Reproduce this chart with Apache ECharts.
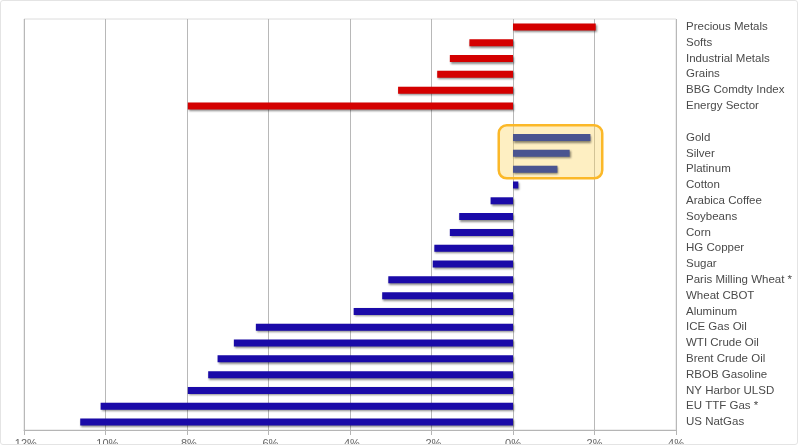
<!DOCTYPE html>
<html>
<head>
    <meta charset="utf-8">
    <script src="https://cdn.jsdelivr.net/npm/echarts@6/dist/echarts.min.js"></script>
    <style>
        body {margin: 0; background: #fff;}
        #frame {position: absolute; left: 0; top: 0; width: 796px; height: 443px;
                border: 1px solid #e4e4e4; border-radius: 3px; pointer-events: none;}
    </style>
</head>
<body>
<div id="main" style="width: 800px; height: 445px"></div>
<div id="frame"></div>
<script type="text/javascript">

    // sector returns, %
    var sectorNames = ['Precious Metals', 'Softs', 'Industrial Metals', 'Grains', 'BBG Comdty Index', 'Energy Sector'];
    var sectorValues = [2.03, -1.07, -1.55, -1.86, -2.82, -7.98];

    // highlighted precious metals
    var metalNames = ['Gold', 'Silver', 'Platinum'];
    var metalValues = [1.90, 1.39, 1.09];

    // single commodities
    var commodityNames = ['Cotton', 'Arabica Coffee', 'Soybeans', 'Corn', 'HG Copper', 'Sugar',
        'Paris Milling Wheat *', 'Wheat CBOT', 'Aluminum', 'ICE Gas Oil', 'WTI Crude Oil',
        'Brent Crude Oil', 'RBOB Gasoline', 'NY Harbor ULSD', 'EU TTF Gas *', 'US NatGas'];
    var commodityValues = [0.13, -0.55, -1.32, -1.55, -1.93, -1.97, -3.06, -3.21, -3.91,
        -6.31, -6.85, -7.25, -7.48, -7.98, -10.12, -10.62];

    var xTicks = [-12, -10, -8, -6, -4, -2, 0, 2, 4];

    var categories = sectorNames.concat([' '], metalNames, commodityNames);

    function pad(before, vals, after) {
        var out = [];
        for (var i = 0; i < before; i++) out.push('-');
        out = out.concat(vals);
        for (var j = 0; j < after; j++) out.push('-');
        return out;
    }

    var nS = sectorNames.length, nM = metalNames.length, nC = commodityNames.length;
    var shadow = {shadowColor: 'rgba(0,0,0,0.45)', shadowBlur: 2, shadowOffsetX: 1, shadowOffsetY: 1.5};

    var myChart = echarts.init(document.getElementById('main'));
    var option = {
        backgroundColor: '#fff',
        animation: false,
        grid: {
            left: 24, right: 124, top: 19, bottom: 15, outerBoundsMode: 'none',
            show: true, borderColor: '#dcdcdc', borderWidth: 1
        },
        xAxis: {
            type: 'value', min: xTicks[0], max: xTicks[xTicks.length - 1], interval: 2,
            axisLine: {show: true, lineStyle: {color: '#b5b5b5'}},
            axisTick: {show: true, length: 5, lineStyle: {color: '#b5b5b5'}},
            axisLabel: {formatter: '{value}%', color: '#666', fontSize: 11, margin: 8,
                fontFamily: 'Liberation Sans'},
            splitLine: {show: true, lineStyle: {color: '#b8b8b8', width: 1}}
        },
        yAxis: {
            type: 'category', data: categories, inverse: true, position: 'right',
            axisLine: {show: false}, axisTick: {show: false},
            axisLabel: {color: '#4a4a4a', fontSize: 11.5, margin: 10, align: 'left',
                fontFamily: 'Liberation Sans', interval: 0}
        },
        series: [
            {
                name: 'Sectors', type: 'bar', barWidth: 7, barGap: '-100%',
                data: pad(0, sectorValues, nM + nC + 1),
                itemStyle: Object.assign({color: '#d40000'}, shadow), z: 3
            },
            {
                name: 'Metals', type: 'bar', barWidth: 7, barGap: '-100%',
                data: pad(nS + 1, metalValues, nC),
                itemStyle: Object.assign({color: '#4a5490'}, shadow), z: 3
            },
            {
                name: 'Commodities', type: 'bar', barWidth: 7, barGap: '-100%',
                data: pad(nS + 1 + nM, commodityValues, 0),
                itemStyle: Object.assign({color: '#1a0aa8'}, shadow), z: 3
            }
        ]
    };
    myChart.setOption(option);

    // yellow highlight box round Gold / Silver / Platinum
    var pTop = myChart.convertToPixel({xAxisIndex: 0, yAxisIndex: 0}, [-0.35, metalNames[0]]);
    var pBot = myChart.convertToPixel({xAxisIndex: 0, yAxisIndex: 0}, [2.19, metalNames[nM - 1]]);
    var band = (pBot[1] - pTop[1]) / (nM - 1);
    var boxTop = pTop[1] - band * 0.78;
    var boxBot = pBot[1] + band * 0.58;
    myChart.setOption({
        graphic: [{
            type: 'rect', z: 1,
            shape: {x: pTop[0], y: boxTop, width: pBot[0] - pTop[0], height: boxBot - boxTop, r: 8},
            style: {fill: 'rgba(253, 214, 95, 0.38)', stroke: '#fbb828', lineWidth: 2.5}
        }]
    });
</script>
</body>
</html>
